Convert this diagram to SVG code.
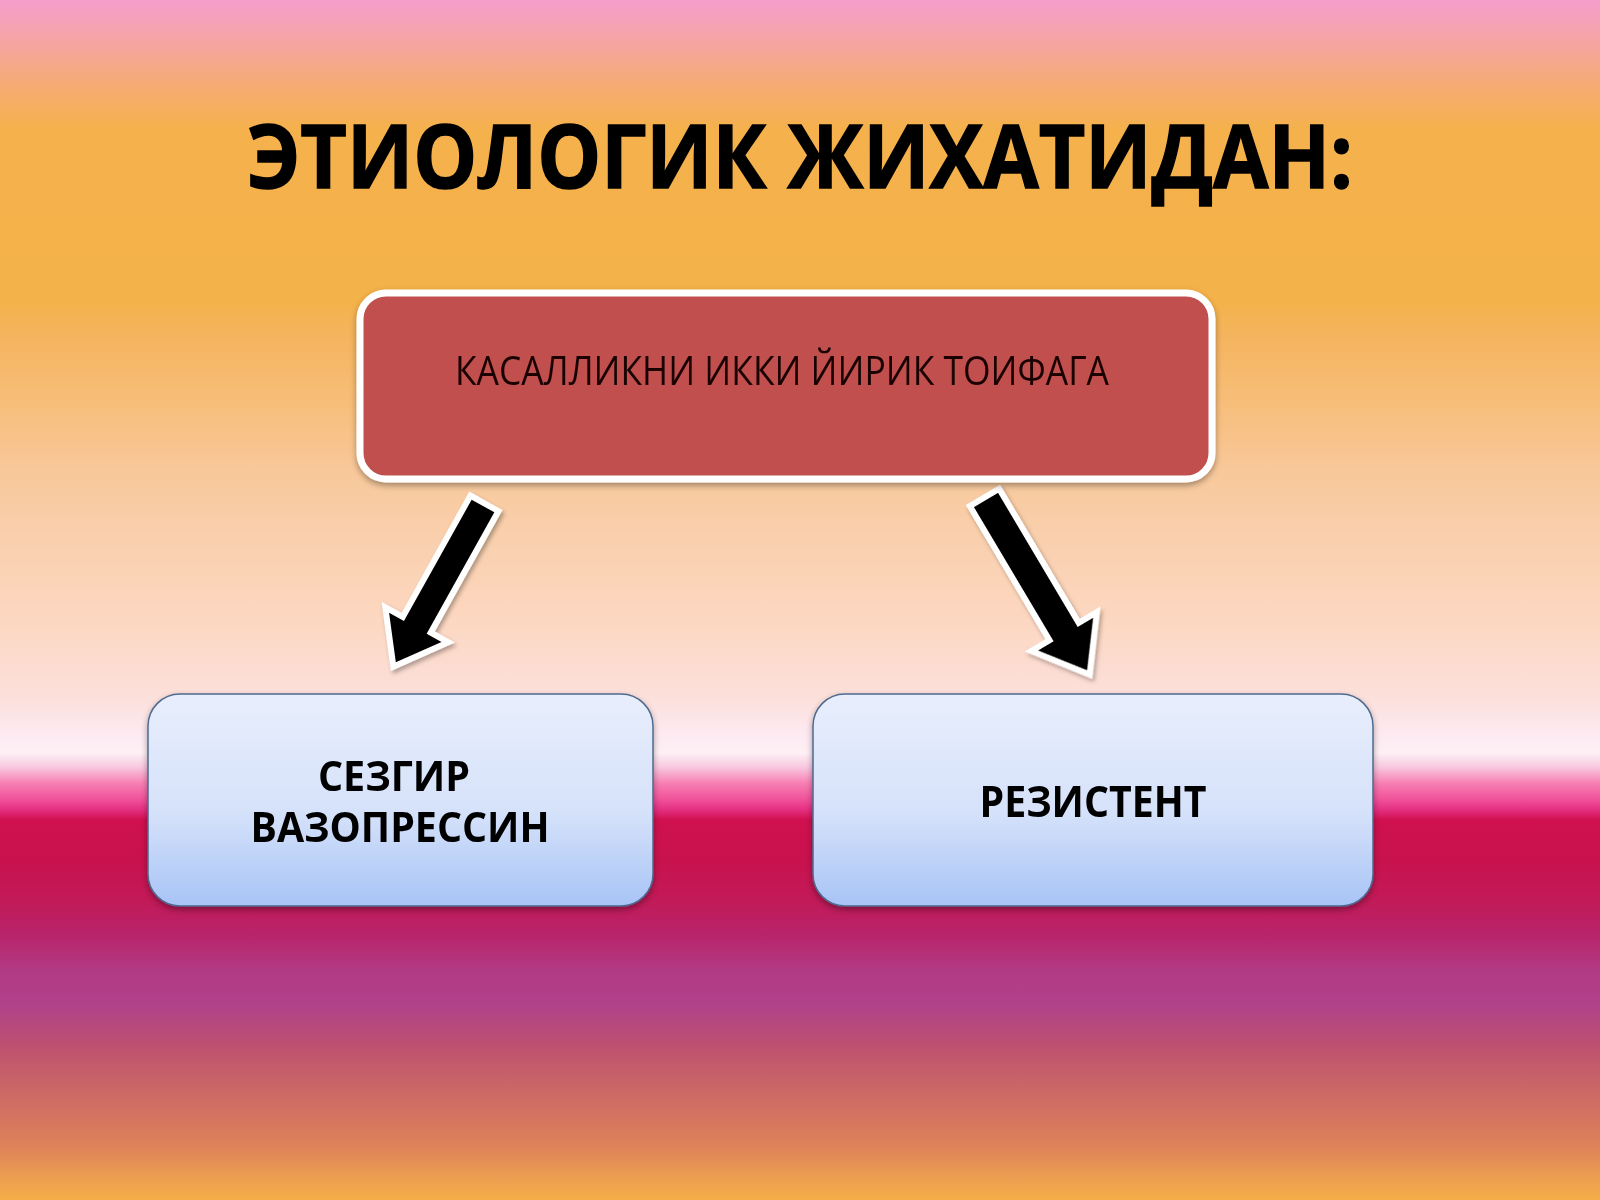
<svg xmlns="http://www.w3.org/2000/svg" width="1600" height="1200" viewBox="0 0 1600 1200">
  <defs>
    <linearGradient id="bg" x1="0" y1="0" x2="0" y2="1200" gradientUnits="userSpaceOnUse">
      <stop offset="0" stop-color="#F59ECD"/>
      <stop offset="0.025" stop-color="#F6A3B0"/>
      <stop offset="0.0667" stop-color="#F5AA78"/>
      <stop offset="0.1083" stop-color="#F5B14C"/>
      <stop offset="0.25" stop-color="#F4B24A"/>
      <stop offset="0.2833" stop-color="#F5B560"/>
      <stop offset="0.3333" stop-color="#F7BD78"/>
      <stop offset="0.3917" stop-color="#F8C89A"/>
      <stop offset="0.45" stop-color="#F9D0AE"/>
      <stop offset="0.5083" stop-color="#FCD6BE"/>
      <stop offset="0.5833" stop-color="#FCE0DC"/>
      <stop offset="0.6125" stop-color="#FDEAF2"/>
      <stop offset="0.6275" stop-color="#FDF0F4"/>
      <stop offset="0.6392" stop-color="#F8C8E0"/>
      <stop offset="0.6525" stop-color="#F780B4"/>
      <stop offset="0.6667" stop-color="#F05098"/>
      <stop offset="0.675" stop-color="#E42E80"/>
      <stop offset="0.6833" stop-color="#D0104F"/>
      <stop offset="0.7167" stop-color="#C8124E"/>
      <stop offset="0.75" stop-color="#C21A58"/>
      <stop offset="0.7792" stop-color="#B8246A"/>
      <stop offset="0.8083" stop-color="#B23A84"/>
      <stop offset="0.8375" stop-color="#B0428A"/>
      <stop offset="0.8708" stop-color="#BD5070"/>
      <stop offset="0.9" stop-color="#C86368"/>
      <stop offset="0.925" stop-color="#D27062"/>
      <stop offset="0.9583" stop-color="#DF8558"/>
      <stop offset="0.9833" stop-color="#EDA050"/>
      <stop offset="1" stop-color="#F4AE48"/>
    </linearGradient>
    <linearGradient id="blue" x1="0" y1="0" x2="0" y2="1">
      <stop offset="0" stop-color="#E8EEFC"/>
      <stop offset="0.55" stop-color="#D6E2FA"/>
      <stop offset="1" stop-color="#A8C4F6"/>
    </linearGradient>
    <filter id="shadow" x="-10%" y="-10%" width="120%" height="130%">
      <feDropShadow dx="0" dy="3" stdDeviation="3" flood-color="#000" flood-opacity="0.35"/>
    </filter>
    <filter id="ashadow" x="-30%" y="-30%" width="160%" height="160%">
      <feDropShadow dx="2" dy="3" stdDeviation="2" flood-color="#000" flood-opacity="0.3"/>
    </filter>
  </defs>
  <style>
    .title { font-family: "Open Sans", "Liberation Sans", sans-serif; font-weight: 700; font-size: 88px; fill: #000; stroke: #000; stroke-width: 1.5; }
    .red { fill: #C0504D; stroke: #FFFFFF; stroke-width: 7; }
    .redtxt { font-family: "Open Sans", "Liberation Sans", sans-serif; font-size: 40px; fill: #1A0606; }
    .bluebox { fill: url(#blue); stroke: #4F6A8F; stroke-width: 1.5; }
    .bluetxt { font-family: "Open Sans", "Liberation Sans", sans-serif; font-weight: 700; font-size: 43px; fill: #000; }
    .bluetxt2 { font-family: "Open Sans", "Liberation Sans", sans-serif; font-weight: 700; font-size: 42px; fill: #000; }
    .arrow { fill: #000; stroke: #FFFFFF; stroke-width: 12; stroke-linejoin: miter; stroke-miterlimit: 6; paint-order: stroke; }
  </style>

  <rect x="0" y="0" width="1600" height="1200" fill="url(#bg)"/>

  <g id="title">
    <text class="title" x="800" y="188" text-anchor="middle" textLength="1106" lengthAdjust="spacingAndGlyphs">ЭТИОЛОГИК ЖИХАТИДАН:</text>
  </g>

  <g id="connectors" filter="url(#ashadow)">
    <polygon class="arrow" transform="translate(483,506) rotate(119.15)" points="0,-13 139,-13 139,-30 179,0 139,30 139,13 0,13"/>
    <polygon class="arrow" transform="translate(986,500) rotate(59.3)" points="0,-14 156,-14 156,-32 198,0 156,32 156,14 0,14"/>
  </g>

  <g id="node-top" filter="url(#shadow)">
    <rect class="red" x="360" y="293" width="852" height="186" rx="26" ry="26"/>
    <text class="redtxt" x="782" y="385" text-anchor="middle" textLength="654" lengthAdjust="spacingAndGlyphs">КАСАЛЛИКНИ ИККИ ЙИРИК ТОИФАГА</text>
  </g>

  <g id="node-left">
    <rect class="bluebox" filter="url(#shadow)" x="148" y="694" width="505" height="212" rx="32" ry="32"/>
    <text class="bluetxt2" x="394" y="791" text-anchor="middle" textLength="152" lengthAdjust="spacingAndGlyphs">СЕЗГИР</text>
    <text class="bluetxt2" x="400" y="842" text-anchor="middle" textLength="299" lengthAdjust="spacingAndGlyphs">ВАЗОПРЕССИН</text>
  </g>

  <g id="node-right">
    <rect class="bluebox" filter="url(#shadow)" x="813" y="694" width="560" height="212" rx="32" ry="32"/>
    <text class="bluetxt" x="1093" y="817" text-anchor="middle" textLength="227" lengthAdjust="spacingAndGlyphs">РЕЗИСТЕНТ</text>
  </g>
</svg>
